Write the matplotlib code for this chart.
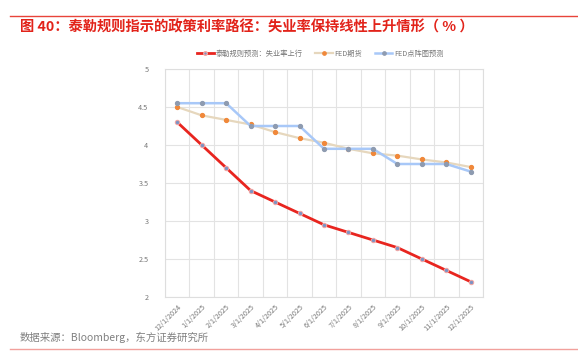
import matplotlib
matplotlib.use("Agg")
import matplotlib.pyplot as plt
from matplotlib.lines import Line2D
import numpy as np

plt.rcParams['font.family'] = ['Noto Sans CJK SC', 'DejaVu Sans']

categories = ["12/1/2024", "1/1/2025", "2/1/2025", "3/1/2025", "4/1/2025", "5/1/2025",
              "6/1/2025", "7/1/2025", "8/1/2025", "9/1/2025", "10/1/2025", "11/1/2025", "12/1/2025"]
taylor = [4.30, 4.00, 3.70, 3.40, 3.25, 3.10, 2.95, 2.85, 2.75, 2.65, 2.50, 2.35, 2.20]
fed_futures = [4.50, 4.39, 4.33, 4.27, 4.17, 4.09, 4.03, 3.95, 3.89, 3.86, 3.81, 3.77, 3.71]
fed_dot = [4.55, 4.55, 4.55, 4.25, 4.25, 4.25, 3.95, 3.95, 3.95, 3.75, 3.75, 3.75, 3.65]
y_ticks = [2, 2.5, 3, 3.5, 4, 4.5, 5]
y_labels = ["2", "2.5", "3", "3.5", "4", "4.5", "5"]
legend_labels = ["泰勒规则预测：失业率上行", "FED期货", "FED点阵图预测"]

fig = plt.figure(figsize=(5.78, 3.64), dpi=100)
W, H = 578, 364
ax = fig.add_axes([165 / W, 1 - 297 / H, (483 - 165) / W, (297 - 69) / H])

x = np.arange(len(categories))
ax.plot(x, fed_futures, color="#e6d7bd", lw=1.6, marker="o", ms=2.8,
        mfc="#f0883a", mec="#f0883a", zorder=3)
ax.plot(x, fed_dot, color="#a8c8f8", lw=1.8, marker="o", ms=2.8,
        mfc="#8e9bb0", mec="#8e9bb0", zorder=4)
ax.plot(x, taylor, color="#e8251f", lw=2.0, marker="o", ms=3.2,
        mfc="#7b93c4", mec="#f4a6a3", mew=0.7, zorder=5)

ax.set_xlim(-0.5, len(categories) - 0.5)
ax.set_ylim(2, 5)
ax.set_yticks(y_ticks)
ax.set_yticklabels(y_labels)
ax.set_xticks(x)
ax.set_xticklabels(categories, rotation=45, ha="right", rotation_mode="anchor")
ax.set_xticks(np.arange(-0.5, len(categories) - 0.4, 1), minor=True)
ax.grid(True, which="minor", axis="x", color="#e3e3e3", lw=0.8)
ax.grid(True, which="major", axis="y", color="#e3e3e3", lw=0.8)
ax.grid(False, which="major", axis="x")
ax.tick_params(axis="both", which="both", length=0, labelsize=5.2, colors="#777777", pad=4)
ax.tick_params(axis="y", pad=12)
for s in ax.spines.values():
    s.set_color("#dedede")
    s.set_linewidth(0.8)
ax.set_axisbelow(True)

handles = [
    Line2D([], [], color="#e8251f", lw=2.0, marker="o", ms=2.6, mfc="#7b93c4", mec="#f4a6a3"),
    Line2D([], [], color="#e6d7bd", lw=1.6, marker="o", ms=2.4, mfc="#f0883a", mec="#f0883a"),
    Line2D([], [], color="#a8c8f8", lw=1.8, marker="o", ms=2.4, mfc="#8e9bb0", mec="#8e9bb0"),
]
fig.legend(handles, legend_labels, loc="center", bbox_to_anchor=(320 / W, 1 - 54 / H),
           ncol=3, frameon=False, fontsize=5.2, labelcolor="#777777",
           handlelength=2.4, handletextpad=0.2, columnspacing=1.8)

# Decorations: top line, title, source, bottom line
fig.add_artist(Line2D([10 / W, 1], [1 - 16 / H, 1 - 16 / H], color="#e8443a", lw=1.0))
fig.text(20 / W, 1 - 27 / H, "图 40：泰勒规则指示的政策利率路径：失业率保持线性上升情形（ % ）",
         fontsize=10.3, fontweight="bold", color="#e2231a", va="center", ha="left")
fig.text(20 / W, 1 - 337 / H, "数据来源：Bloomberg，东方证券研究所",
         fontsize=7.5, color="#808080", va="center", ha="left")
fig.add_artist(Line2D([10 / W, 1], [1 - 349 / H, 1 - 349 / H], color="#f2a09c", lw=1.0))

fig.savefig("out.png", dpi=100)
